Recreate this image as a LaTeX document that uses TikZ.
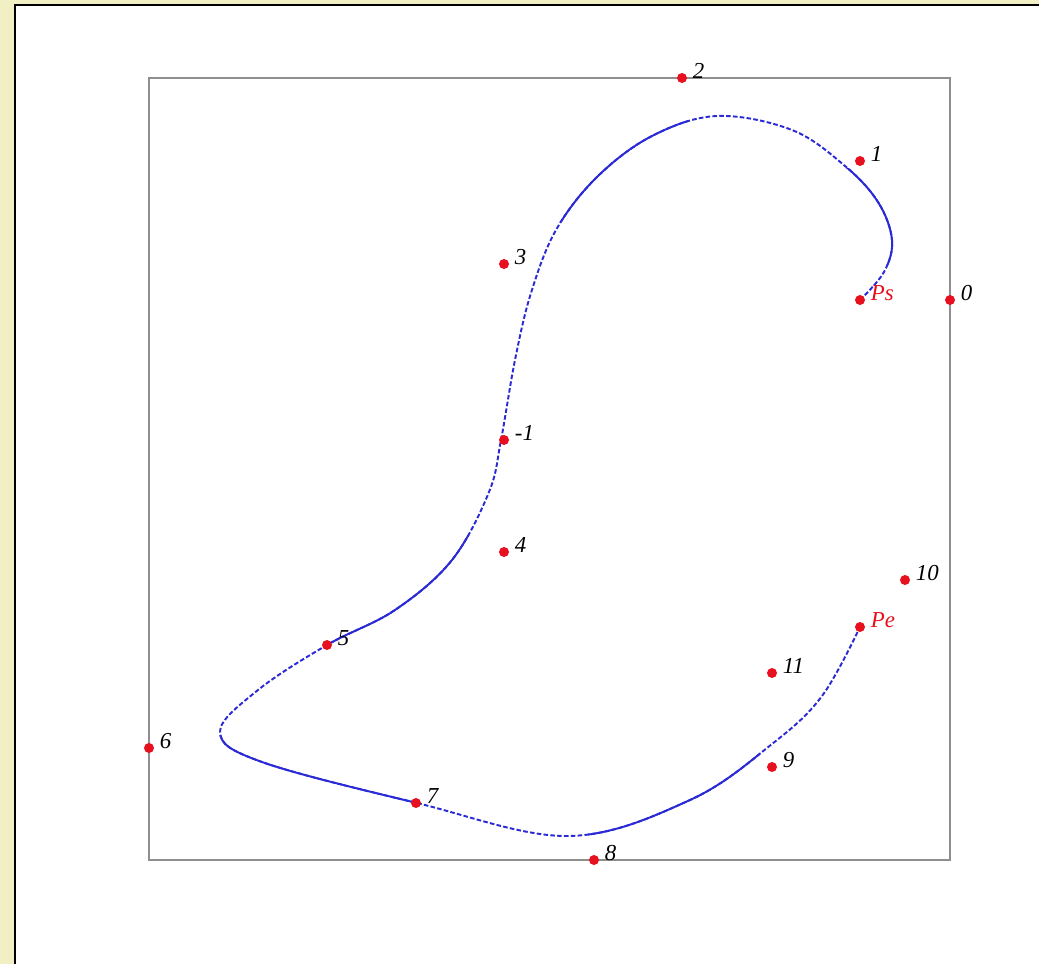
\documentclass[tikz,border=0pt]{standalone}
\usepackage{fontspec}
\setmainfont{Liberation Serif}
\usetikzlibrary{positioning}
\definecolor{PageBeige}{HTML}{F3EFC4}
\definecolor{BoxGray}{HTML}{8E8E8E}
\definecolor{DotRed}{HTML}{E6101E}
\definecolor{CurveBlue}{HTML}{2A2AD6}

\begin{document}
\begin{tikzpicture}[
    x=0.02cm, y=-0.02cm,
    dot/.style={
      circle,
      fill=DotRed,
      inner sep=0pt,
      minimum size=0.2cm
    },
    lbl/.style={
      font=\fontsize{13}{15}\selectfont\itshape,
      anchor=base west,
      inner sep=0pt,
      xshift=3pt
    },
    endlbl/.style={lbl, text=DotRed},
    curve/.style={draw=CurveBlue, line width=1.1pt, line cap=round},
    curvedash/.style={curve, line cap=butt, dash pattern=on 2.6pt off 1.3pt}
  ]
    \useasboundingbox (0,0) rectangle (1039,964);
    \fill[PageBeige] (0,0) rectangle (1039,964);
    \fill[white] (15,5) rectangle (1050,975);
    \draw[black, line width=1.2pt] (15,975) -- (15,5) -- (1050,5);

    % plot frame
    \draw[BoxGray, line width=1.1pt] (149,78) rectangle (950,860);

    % spline
    \path[save path=\splinepath] plot[smooth, tension=0.6] coordinates {
      (860,300) (884,272) (892,240) (878,202) (845,166) (792,130) (717,116)
      (652,136) (597,177) (556,230) (531,293) (515,360) (501,440) (489,492)
      (452,560) (395,610) (327,645) (258,690) (220,732) (262,762) (417,803)
      (568,836) (690,800) (772,744) (822,696) (860,627)};
    \draw[curvedash, use path=\splinepath];
    \begin{scope}
      \clip (845,168) rectangle (905,265)
            (555,105) rectangle (688,222)
            (330,535) rectangle (470,643)
            (205,735) rectangle (415,815)
            (588,740) rectangle (760,845);
      \draw[curve, use path=\splinepath];
    \end{scope}

    % control points
    \node[dot, label={[endlbl]right:Ps}] (ps) at (860,300) {};
    \node[dot, label={[endlbl]right:Pe}] (pe) at (860,627) {};
    \node[dot, label={[lbl]right:0}] (p0) at (950,300) {};
    \node[dot, label={[lbl]right:1}] (p1) at (860,161) {};
    \node[dot, label={[lbl]right:2}] (p2) at (682,78) {};
    \node[dot, label={[lbl]right:3}] (p3) at (504,264) {};
    \node[dot, label={[lbl]right:-1}] (pm1) at (504,440) {};
    \node[dot, label={[lbl]right:4}] (p4) at (504,552) {};
    \node[dot, label={[lbl]right:5}] (p5) at (327,645) {};
    \node[dot, label={[lbl]right:6}] (p6) at (149,748) {};
    \node[dot, label={[lbl]right:7}] (p7) at (416,803) {};
    \node[dot, label={[lbl]right:8}] (p8) at (594,860) {};
    \node[dot, label={[lbl]right:9}] (p9) at (772,767) {};
    \node[dot, label={[lbl]right:10}] (p10) at (905,580) {};
    \node[dot, label={[lbl]right:11}] (p11) at (772,673) {};
  \end{tikzpicture}
\end{document}
